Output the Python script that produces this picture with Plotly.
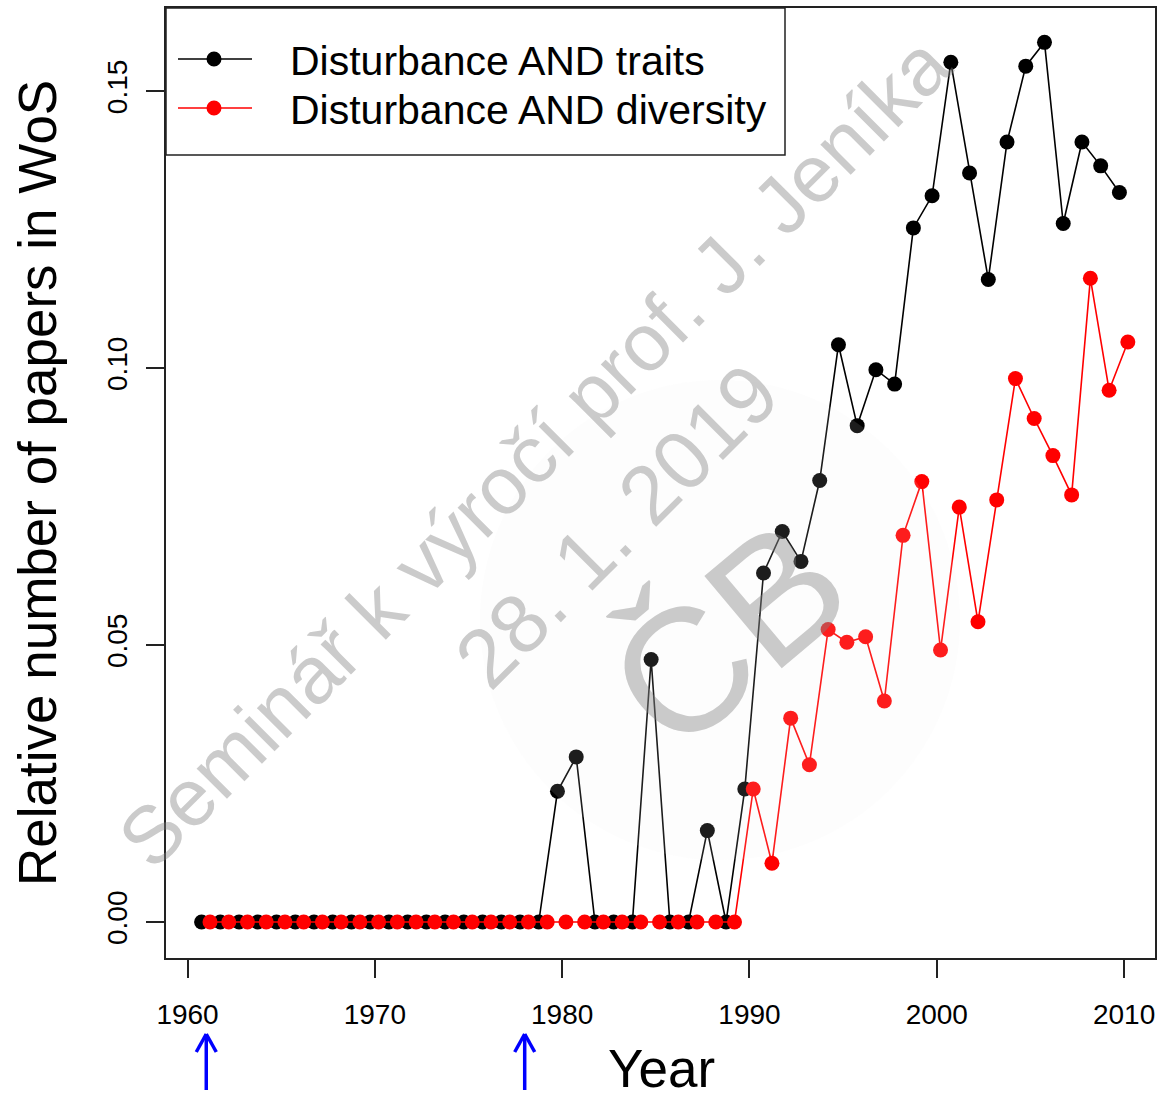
import plotly.graph_objects as go

# ---------------- data ----------------
years = list(range(1961, 2011))
traits = [0.0] * 19 + [
    0.0236, 0.0298, 0.0, 0.0, 0.0, 0.0474, 0.0, 0.0, 0.0165, 0.0,
    0.0240, 0.0630, 0.0705, 0.0651, 0.0797, 0.1042, 0.0896, 0.0997, 0.0971, 0.1253,
    0.1311, 0.1552, 0.1352, 0.1160, 0.1408, 0.1545, 0.1588, 0.1261, 0.1408, 0.1365,
    0.1317]
diversity = [0.0] * 29 + [
    0.0240, 0.0106, 0.0368, 0.0284, 0.0528, 0.0505, 0.0515, 0.0399, 0.0698, 0.0795,
    0.0491, 0.0749, 0.0542, 0.0762, 0.0981, 0.0909, 0.0842, 0.0771, 0.1162, 0.0960,
    0.1047]
series_names = ["Disturbance AND traits", "Disturbance AND diversity"]
series_colors = ["#000000", "#ff0000"]
x_ticks = [1960, 1970, 1980, 1990, 2000, 2010]
y_ticks = [0.0, 0.05, 0.10, 0.15]
y_ticklabels = ["0.00", "0.05", "0.10", "0.15"]
arrow_years = [1961, 1978]
x_title = "Year"
y_title = "Relative number of papers in WoS"
watermark_lines = ["Seminář k výročí prof. J. Jeníka", "28. 1. 2019"]
logo_text = "ČB"

# ---------------- layout helpers ----------------
W, H = 1158, 1100
L, R, T, B = 166, 3, 8, 142
PW, PH = W - L - R, H - T - B
FONT = "Liberation Sans, Arial, sans-serif"
WM_COLOR = "rgba(130,130,130,0.42)"


def px(xp):
    return (xp - L) / PW


def py(yp):
    return (H - B - yp) / PH


offsets = [-0.25, 0.2]
fig = go.Figure()
for vals, name, col, off in zip([traits, diversity], series_names, series_colors, offsets):
    fig.add_trace(go.Scatter(
        x=[y + off for y in years], y=vals, mode="lines+markers", name=name,
        line=dict(color=col, width=1.6),
        marker=dict(color=col, size=15, line=dict(width=0)),
        showlegend=False,
    ))

shapes = []
annotations = []

# very faint disc behind logo (semi-transparent overlay)
shapes.append(dict(type="circle", xref="paper", yref="paper",
                   x0=px(480), x1=px(960), y0=py(860), y1=py(380),
                   fillcolor="rgba(235,235,235,0.12)", line=dict(width=0), layer="above"))

# watermark text
annotations.append(dict(text=watermark_lines[0], xref="paper", yref="paper",
                        x=px(534), y=py(452), showarrow=False, textangle=-45,
                        font=dict(family=FONT, size=81, color=WM_COLOR),
                        xanchor="center", yanchor="middle"))
annotations.append(dict(text=watermark_lines[1], xref="paper", yref="paper",
                        x=px(616), y=py(526), showarrow=False, textangle=-45,
                        font=dict(family=FONT, size=83, color=WM_COLOR),
                        xanchor="center", yanchor="middle"))
# logo approximation
annotations.append(dict(text=logo_text, xref="paper", yref="paper",
                        x=px(728), y=py(635), showarrow=False, textangle=-40,
                        font=dict(family=FONT, size=175, color=WM_COLOR),
                        xanchor="center", yanchor="middle"))

# legend (manual, R-style)
shapes.append(dict(type="rect", xref="paper", yref="paper",
                   x0=px(166), x1=px(785), y0=py(155), y1=py(8),
                   line=dict(color="#222222", width=1.5), fillcolor="white", layer="below"))
for i, (name, col) in enumerate(zip(series_names, series_colors)):
    yy = 59 + i * 49
    shapes.append(dict(type="line", xref="paper", yref="paper",
                       x0=px(178), x1=px(252), y0=py(yy), y1=py(yy),
                       line=dict(color=col, width=1.6)))
    shapes.append(dict(type="circle", xref="paper", yref="paper",
                       xsizemode="pixel", ysizemode="pixel",
                       xanchor=px(214), yanchor=py(yy),
                       x0=-7.5, x1=7.5, y0=-7.5, y1=7.5,
                       fillcolor=col, line=dict(width=0)))
    annotations.append(dict(text=name, xref="paper", yref="paper",
                            x=px(288), y=py(yy + 2), showarrow=False,
                            xanchor="left", yanchor="middle",
                            font=dict(family=FONT, size=41, color="black")))

# blue arrows below x axis
for ay in arrow_years:
    shapes.append(dict(type="line", xref="x", yref="paper",
                       x0=ay, x1=ay, y0=py(1090), y1=py(1034),
                       line=dict(color="#0000ff", width=3.5)))
    for side in (-1, 1):
        shapes.append(dict(type="line", xref="x", yref="paper",
                           xsizemode="pixel", ysizemode="pixel",
                           xanchor=ay, yanchor=py(1034),
                           x0=side * 10, x1=0, y0=-18, y1=0,
                           line=dict(color="#0000ff", width=3.5)))

# axis titles
annotations.append(dict(text=x_title, xref="paper", yref="paper",
                        x=px(661), y=py(1100), showarrow=False,
                        xanchor="center", yanchor="bottom",
                        font=dict(family=FONT, size=53, color="black")))
annotations.append(dict(text=y_title, xref="paper", yref="paper",
                        x=px(37), y=py(483), showarrow=False, textangle=-90,
                        xanchor="center", yanchor="middle",
                        font=dict(family=FONT, size=53, color="black")))

axis_common = dict(showgrid=False, zeroline=False, showline=True, mirror=True,
                   linecolor="#222222", linewidth=2, ticks="outside", ticklen=18,
                   tickwidth=1.5, tickcolor="#222222",
                   tickfont=dict(family=FONT, size=28, color="black"))

fig.update_layout(
    width=W, height=H,
    margin=dict(l=L, r=R, t=T, b=B, autoexpand=False),
    paper_bgcolor="white", plot_bgcolor="white",
    xaxis=dict(range=[1958.85, 2011.65], tickvals=x_ticks, ticklabelstandoff=12, **axis_common),
    yaxis=dict(range=[-0.0065, 0.165], tickvals=y_ticks, ticktext=y_ticklabels,
               tickangle=-90, ticklabelstandoff=8, **axis_common),
    shapes=shapes, annotations=annotations, showlegend=False,
)

fig.write_html("out.html")
